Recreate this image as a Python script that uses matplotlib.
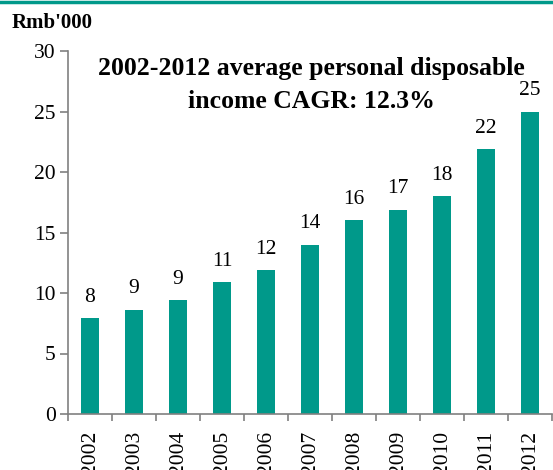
import numpy as np
import matplotlib.pyplot as plt
from matplotlib.lines import Line2D

years = ['2002', '2003', '2004', '2005', '2006', '2007', '2008', '2009', '2010', '2011', '2012']
income = [7.9, 8.6, 9.4, 10.9, 11.9, 14.0, 16.0, 16.9, 18.0, 21.9, 25.0]
labels = ['8', '9', '9', '11', '12', '14', '16', '17', '18', '22', '25']

teal = '#00998A'
grey = '#808080'

plt.rcParams['font.family'] = ['Liberation Serif', 'DejaVu Serif']

fig = plt.figure(figsize=(5.53, 4.70), dpi=100)
ax = fig.add_axes([68/553, 56/470, 484/553, 363/470])

x = np.arange(len(years))
ax.bar(x, income, width=0.41, color=teal)
for xi, v, t in zip(x, income, labels):
    ax.text(xi, v + 0.95, t, ha='center', va='bottom', fontsize=15.5)

ax.set_xlim(-0.5, len(years) - 0.5)
ax.set_ylim(0, 30)
ax.set_yticks(range(0, 31, 5))
ax.tick_params(axis='y', labelsize=15.5, color=grey, length=6, width=1.2, pad=3)
ax.set_xticks(x)
ax.set_xticklabels(years, rotation=90, fontsize=15.5)
ax.tick_params(axis='x', length=0, pad=12)
ax.set_xticks(np.arange(-0.5, len(years)), minor=True)
ax.tick_params(axis='x', which='minor', length=5, width=1.2, color=grey)

for s in ['top', 'right']:
    ax.spines[s].set_visible(False)
for s in ['left', 'bottom']:
    ax.spines[s].set_color(grey)
    ax.spines[s].set_linewidth(1.2)

fig.text(12/553, 1 - 23/470, "Rmb'000", fontsize=15, fontweight='bold', va='center')
fig.text(311/553, 1 - 69/470, '2002-2012 average personal disposable',
         fontsize=18.5, fontweight='bold', ha='center', va='center')
fig.text(311/553, 1 - 102/470, 'income CAGR: 12.3%',
         fontsize=18.5, fontweight='bold', ha='center', va='center')

fig.add_artist(Line2D([0, 1], [1 - 1.5/470, 1 - 1.5/470], color=teal, linewidth=2.5,
                      transform=fig.transFigure))

fig.savefig('out.png', dpi=100)
